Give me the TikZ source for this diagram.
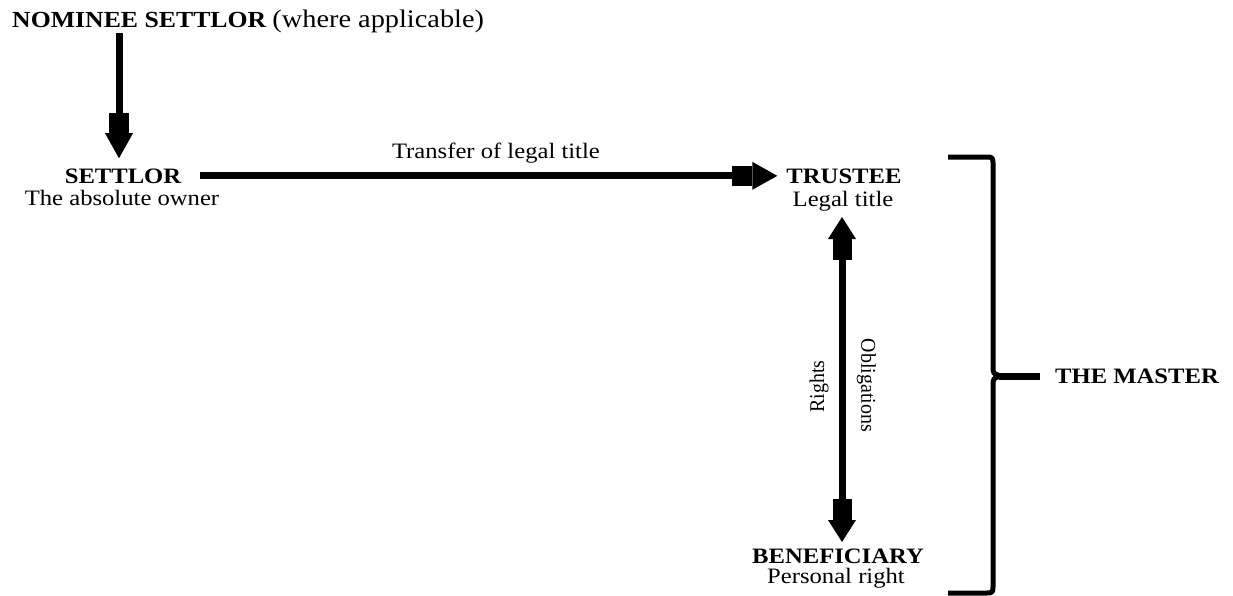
\documentclass[tikz,border=0pt]{standalone}
\usepackage{fontspec}
\setmainfont{Liberation Serif}[FakeStretch=1.12]
\newfontfamily\rotfont{Liberation Serif}[FakeStretch=0.95]
\usetikzlibrary{arrows.meta}
\tikzset{
  lbl/.style={inner sep=0pt, font=\fontsize{22}{26}\selectfont},
  ttl/.style={lbl, font=\fontsize{22}{26}\selectfont\bfseries},
  rotlbl/.style={inner sep=0pt, font=\rotfont\fontsize{21}{24}\selectfont},
  fatarrow/.style={line width=7pt,
    -{Rectangle[width=20pt,length=20pt,line width=0pt]Triangle[width=28pt,length=25pt,line width=0pt]}},
  fatboth/.style={line width=7pt,
    {Triangle[width=28pt,length=22pt,line width=0pt]Rectangle[width=19pt,length=21pt,line width=0pt]}-{Rectangle[width=19pt,length=21pt,line width=0pt]Triangle[width=28pt,length=22pt,line width=0pt]}},
  bracel/.style={line width=5pt, line join=round},
}
\begin{document}
\begin{tikzpicture}[x=1pt,y=-1pt]
\useasboundingbox (0,0) rectangle (1233,595);
% nodes
\node[lbl, anchor=base west] (nominee) at (12,27)
  {{\fontsize{23}{26}\selectfont\bfseries NOMINEE SETTLOR} {\fontsize{25.3}{28}\selectfont(where applicable)}};
\coordinate (nomtop) at (119,33);
\node[ttl, anchor=base] (settlor) at (123,183) {SETTLOR};
\node[lbl, anchor=base] (settlorsub) at (122,205) {The absolute owner};
\node[ttl, anchor=base] (trustee) at (844,183) {TRUSTEE};
\node[lbl, anchor=base] (trusteesub) at (843,206) {Legal title};
\node[ttl, anchor=base] (benef) at (838,563) {BENEFICIARY};
\node[lbl, anchor=base] (benefsub) at (836,583) {Personal right};
\node[ttl, anchor=base west] (master) at (1055,383) {THE MASTER};
% connectors
\draw[fatarrow, shorten >=10pt] (nomtop) -- (nomtop |- settlor.north);
\draw[fatarrow, shorten <=19pt, shorten >=9pt] (settlor.east) -- (trustee.west)
  node[lbl, pos=0.52, above=9pt] (transfer) {Transfer of legal title};
\coordinate (vtop) at (842,211);
\coordinate (vbot) at (842,548);
\draw[fatboth, shorten <=6pt, shorten >=6pt] (vtop) -- (vbot)
  node[rotlbl, midway, xshift=-23pt, yshift=-7pt, rotate=90] (rights) {Rights}
  node[rotlbl, midway, xshift=24.5pt, yshift=-6pt, rotate=-90] (oblig) {Obligations};
% brace
\draw[bracel] (948,157) -- (985,157) .. controls (993,157) .. (993,165) -- (993,366)
  .. controls (993,374) .. (1002,376);
\draw[bracel] (948,593) -- (985,593) .. controls (993,593) .. (993,585) -- (993,386)
  .. controls (993,378) .. (1002,376);
\draw[line width=7pt] (999,376) -- (1040,376);
\end{tikzpicture}
\end{document}
